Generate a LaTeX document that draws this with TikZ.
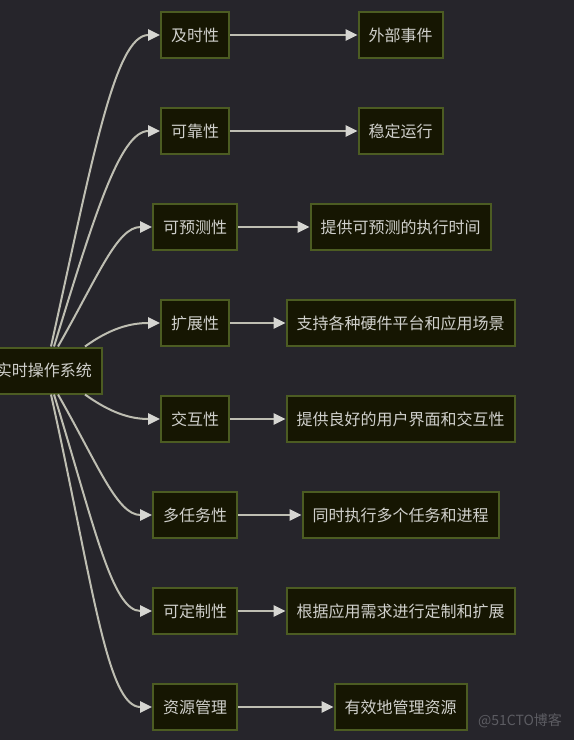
\documentclass[tikz,border=0pt]{standalone}
\usepackage{fontspec}
\setmainfont{Noto Sans CJK SC}
\usetikzlibrary{arrows.meta}

\definecolor{bgc}{RGB}{38,37,43}
\definecolor{boxfill}{RGB}{22,22,2}
\definecolor{boxline}{RGB}{76,92,34}
\definecolor{txtc}{RGB}{208,208,204}
\definecolor{edgec}{RGB}{190,190,178}
\definecolor{tipc}{RGB}{214,214,210}
\definecolor{markc}{RGB}{92,92,98}

\tikzset{every picture/.style={line width=0.75pt}}
\tikzset{
  topic/.style={draw=boxline, fill=boxfill, line width=1.5pt, text=txtc,
    font=\fontsize{12}{14}\selectfont, minimum height=34.5pt, inner xsep=7.5pt, inner ysep=0pt},
  link/.style={draw=edgec, line width=1.5pt, -{Triangle[length=9pt,width=8.5pt,fill=tipc,color=tipc]}}
}

\begin{document}
\begin{tikzpicture}[x=0.75pt,y=0.75pt,yscale=-1,xscale=1]
	%set diagram to 574 x 740
	\useasboundingbox[fill=bgc] (0,0) rectangle (574,740);
	
	% Root
	\node[topic] (root) at (44,370.5) {实时操作系统};
	
	% Features
	\node[topic] (jishi) at (195,35) {及时性};
	\node[topic] (kekao) at (195,131) {可靠性};
	\node[topic] (yuce) at (195,227) {可预测性};
	\node[topic] (kuozhan) at (195,323) {扩展性};
	\node[topic] (jiaohu) at (195,419) {交互性};
	\node[topic] (duorenwu) at (195,515) {多任务性};
	\node[topic] (dingzhi) at (195,611) {可定制性};
	\node[topic] (ziyuan) at (195,707) {资源管理};
	
	% Details
	\node[topic] (jishiD) at (400.5,35) {外部事件};
	\node[topic] (kekaoD) at (400.5,131) {稳定运行};
	\node[topic] (yuceD) at (400.5,227) {提供可预测的执行时间};
	\node[topic] (kuozhanD) at (400.5,323) {支持各种硬件平台和应用场景};
	\node[topic] (jiaohuD) at (400.5,419) {提供良好的用户界面和交互性};
	\node[topic] (duorenwuD) at (400.5,515) {同时执行多个任务和进程};
	\node[topic] (dingzhiD) at (400.5,611) {根据应用需求进行定制和扩展};
	\node[topic] (ziyuanD) at (400.5,707) {有效地管理资源};
	
	% Curved links from root
	\draw[link] ([shift={(7,0)}]root.north) .. controls +(42,-190) and +(-45,0) .. (jishi.west);
	\draw[link] ([shift={(10,0)}]root.north) .. controls +(40,-130) and +(-40,0) .. (kekao.west);
	\draw[link] ([shift={(14,0)}]root.north) .. controls +(40,-70) and +(-35,0) .. (yuce.west);
	\draw[link] ([shift={(41,0)}]root.north) .. controls +(25,-18) and +(-30,0) .. (kuozhan.west);
	\draw[link] ([shift={(41,0)}]root.south) .. controls +(25,18) and +(-30,0) .. (jiaohu.west);
	\draw[link] ([shift={(14,0)}]root.south) .. controls +(40,70) and +(-35,0) .. (duorenwu.west);
	\draw[link] ([shift={(10,0)}]root.south) .. controls +(40,130) and +(-40,0) .. (dingzhi.west);
	\draw[link] ([shift={(7,0)}]root.south) .. controls +(42,190) and +(-45,0) .. (ziyuan.west);
	
	% Straight links
	\draw[link] (jishi) -- (jishiD);
	\draw[link] (kekao) -- (kekaoD);
	\draw[link] (yuce) -- (yuceD);
	\draw[link] (kuozhan) -- (kuozhanD);
	\draw[link] (jiaohu) -- (jiaohuD);
	\draw[link] (duorenwu) -- (duorenwuD);
	\draw[link] (dingzhi) -- (dingzhiD);
	\draw[link] (ziyuan) -- (ziyuanD);
	
	% Text Node
	\node[text=markc, font=\fontsize{10.5}{12}\selectfont] (mark) at (520,721) {@51CTO博客};
	
\end{tikzpicture}
\end{document}
